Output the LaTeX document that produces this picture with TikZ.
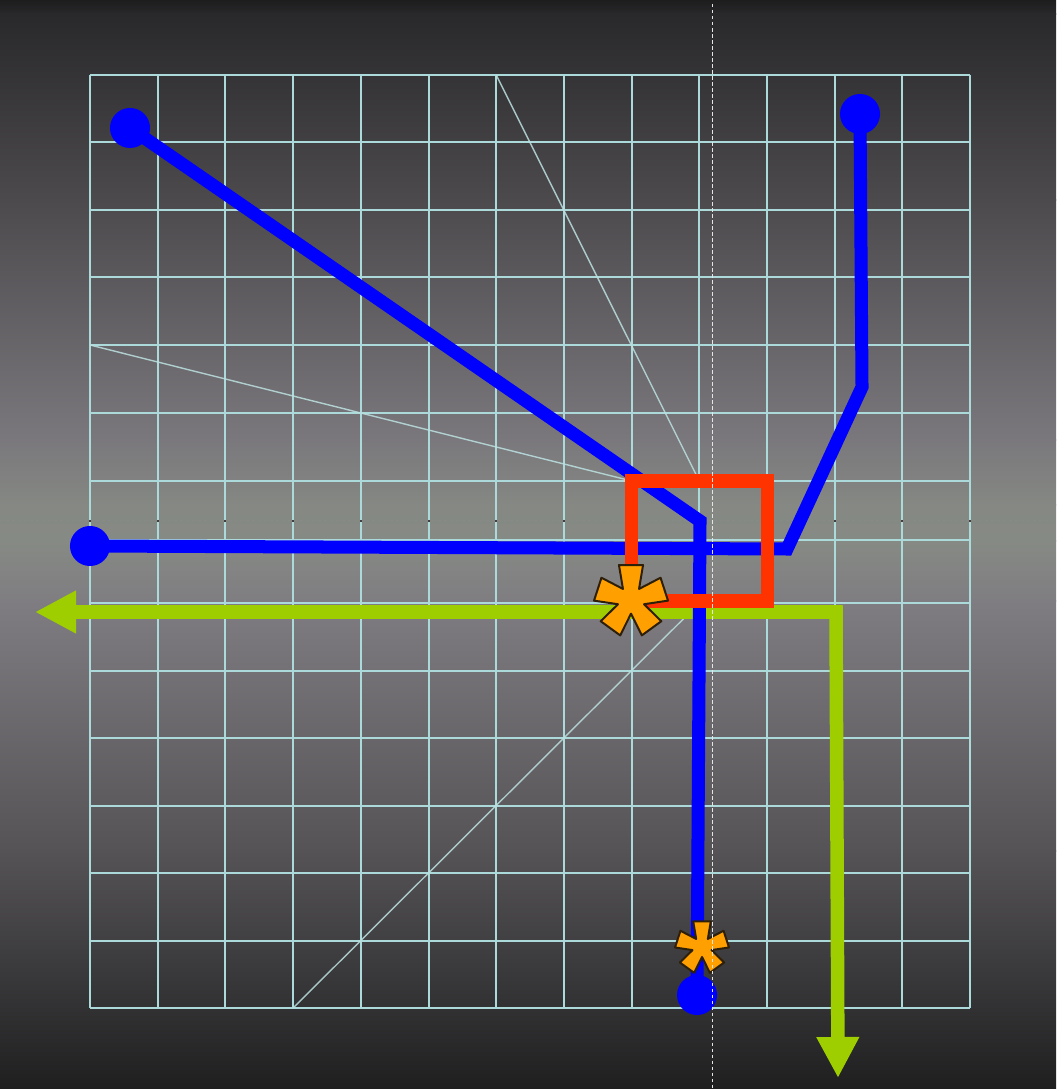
\documentclass[tikz,border=0pt]{standalone}
\usetikzlibrary{arrows.meta}
\definecolor{gridcyan}{HTML}{ACDADA}
\definecolor{routeblue}{HTML}{0000FF}
\definecolor{boxred}{HTML}{FF3300}
\definecolor{exitgreen}{HTML}{9ECE00}
\definecolor{splatorange}{HTML}{FFA000}
\definecolor{splatrim}{HTML}{2E2008}
\definecolor{bgA}{HTML}{1D1D1E}
\definecolor{bgB}{HTML}{29282A}
\definecolor{bgC}{HTML}{4C4A4D}
\definecolor{bgD}{HTML}{7A787C}
\definecolor{bgE}{HTML}{858883}
\definecolor{bgF}{HTML}{868A84}
\definecolor{bgG}{HTML}{7F7D81}
\definecolor{bgH}{HTML}{555356}
\definecolor{bgI}{HTML}{1F1F20}

\tikzset{
  splat/.pic={
    \filldraw[fill=splatorange,draw=splatrim,line width=0.02cm,line join=round]
      (-126:0.37) \foreach \a in {-90,-18,54,126,198}
        { -- (\a-19:1) -- (\a+19:1) -- (\a+36:0.37) } -- cycle;
  }
}

\begin{document}
\begin{tikzpicture}[
  x=0.01cm, y=-0.01cm,
  >={Triangle[length=0.41cm,width=0.4cm]},
  gridline/.style={gridcyan, line width=0.02cm},
  ray/.style={gridcyan!80!white, line width=0.014cm, opacity=0.85},
  route/.style={routeblue, line width=0.13cm},
  endpt/.style={circle, fill=routeblue, inner sep=0pt, minimum size=0.4cm},
  hotbox/.style={boxred, line width=0.13cm},
  exitpath/.style={<->, exitgreen, line width=0.135cm},
  guide/.style={white!80!gray, line width=0.01cm, dash pattern=on 0.035cm off 0.025cm},
  hguide/.style={black!45, line width=0.01cm, dash pattern=on 0.03cm off 0.03cm, opacity=0.5}
]
  \useasboundingbox (0,0) rectangle (1056,1089);

  % backdrop
  \shade[top color=bgA, bottom color=bgB] (0,0) rectangle (1056,15);
  \shade[top color=bgB, bottom color=bgC] (0,14) rectangle (1056,201);
  \shade[top color=bgC, bottom color=bgD] (0,200) rectangle (1056,441);
  \shade[top color=bgD, bottom color=bgE] (0,440) rectangle (1056,506);
  \shade[top color=bgE, bottom color=bgF] (0,505) rectangle (1056,541);
  \shade[top color=bgF, bottom color=bgG] (0,540) rectangle (1056,601);
  \shade[top color=bgG, bottom color=bgH] (0,600) rectangle (1056,851);
  \shade[top color=bgH, bottom color=bgI] (0,850) rectangle (1056,1089);

  % grid
  \foreach \i in {0,...,13}
    \draw[gridline] (90+67.7*\i,75) -- (90+67.7*\i,1008);
  \foreach \y in {75,142,210,277,345,413,481,540,603,671,738,806,873,941,1008}
    \draw[gridline] (90,\y) -- (970.1,\y);

  \draw[hguide] (0,521) -- (1056,521);
  \foreach \i in {0,...,13}
    \fill[black!75] (89+67.7*\i,520) rectangle +(2,2);

  % box corners
  \coordinate (boxnw) at (631.6,481);
  \coordinate (boxtop) at (699.3,481);
  \coordinate (boxbot) at (699.3,603);
  \coordinate (boxse) at (767,601);

  % rays into the box
  \draw[ray] (496.2,75) -- (boxtop);
  \draw[ray] (90,345) -- (boxnw);
  \draw[ray] (293.1,1008) -- (boxbot);

  % green exit
  \coordinate (westtip) at (35,612);
  \coordinate (turn) at (836,612);
  \coordinate (southtip) at (838,1078);
  \draw[exitpath] (westtip) -- (turn) -- (southtip);

  % blue routes
  \node[endpt] (nw) at (130,128) {};
  \node[endpt] (ne) at (860,114) {};
  \node[endpt] (w) at (90,546) {};
  \node[endpt] (s) at (697,995) {};
  \coordinate (knee) at (700,521);
  \coordinate (elbow) at (787,549);
  \coordinate (bend) at (862,387);
  \draw[route] (nw.center) -- (knee) -- (s.center);
  \draw[route] (w.center) -- (elbow) -- (bend) -- (ne.center);

  \draw[hotbox] (boxnw) rectangle (boxse);

  \pic[scale=37] at (631,600) {splat};
  \pic[scale=27] at (702,947) {splat};

  \draw[guide] (712,4) -- (712,1089);
\end{tikzpicture}
\end{document}
